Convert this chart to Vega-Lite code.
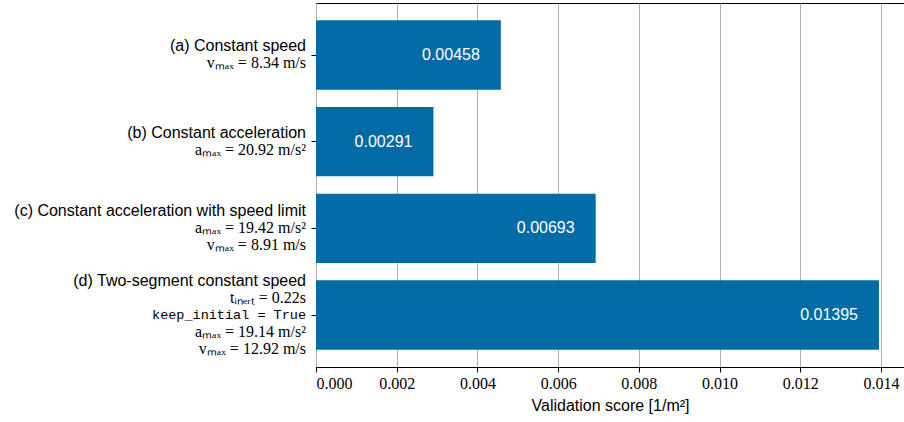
{
  "$schema": "https://vega.github.io/schema/vega-lite/v6.json",
  "width": 588,
  "height": 364,
  "autosize": {"type": "none"},
  "padding": {"left": 316, "top": 3, "right": 0, "bottom": 55},
  "background": "white",
  "config": {
    "view": {"stroke": "black", "strokeWidth": 1},
    "font": "Liberation Sans"
  },
  "datasets": {
    "scores": [
      {"model": "(a) Constant speed", "score": 0.00458},
      {"model": "(b) Constant acceleration", "score": 0.00291},
      {"model": "(c) Constant acceleration with speed limit", "score": 0.00693},
      {"model": "(d) Two-segment constant speed", "score": 0.01395}
    ],
    "labels": [
      {"model": "(a) Constant speed", "line": 1, "kind": "heading", "text": "(a) Constant speed"},
      {"model": "(a) Constant speed", "line": 2, "kind": "math", "text": "vₘₐₓ = 8.34 m/s"},
      {"model": "(b) Constant acceleration", "line": 1, "kind": "heading", "text": "(b) Constant acceleration"},
      {"model": "(b) Constant acceleration", "line": 2, "kind": "math", "text": "aₘₐₓ = 20.92 m/s²"},
      {"model": "(c) Constant acceleration with speed limit", "line": 1, "kind": "heading", "text": "(c) Constant acceleration with speed limit"},
      {"model": "(c) Constant acceleration with speed limit", "line": 2, "kind": "math", "text": "aₘₐₓ = 19.42 m/s²"},
      {"model": "(c) Constant acceleration with speed limit", "line": 3, "kind": "math", "text": "vₘₐₓ = 8.91 m/s"},
      {"model": "(d) Two-segment constant speed", "line": 1, "kind": "heading", "text": "(d) Two-segment constant speed"},
      {"model": "(d) Two-segment constant speed", "line": 2, "kind": "math", "text": "tᵢₙₑᵣₜ = 0.22s"},
      {"model": "(d) Two-segment constant speed", "line": 3, "kind": "code", "text": "keep_initial = True"},
      {"model": "(d) Two-segment constant speed", "line": 4, "kind": "math", "text": "aₘₐₓ = 19.14 m/s²"},
      {"model": "(d) Two-segment constant speed", "line": 5, "kind": "math", "text": "vₘₐₓ = 12.92 m/s"}
    ]
  },
  "resolve": {"scale": {"yOffset": "independent"}},
  "layer": [
    {
      "data": {"name": "scores"},
      "mark": {"type": "bar", "color": "#006ba4"},
      "encoding": {
        "y": {
          "field": "model", "type": "nominal", "sort": null,
          "scale": {
            "domain": ["(a) Constant speed", "(b) Constant acceleration", "(c) Constant acceleration with speed limit", "(d) Two-segment constant speed"],
            "paddingInner": 0.2, "paddingOuter": 0.2
          },
          "axis": {"labels": false, "ticks": true, "tickColor": "black", "tickSize": 5, "domain": false, "grid": false, "title": null}
        },
        "x": {
          "field": "score", "type": "quantitative",
          "scale": {"domain": [0, 0.01457], "nice": false},
          "axis": {
            "values": [0, 0.002, 0.004, 0.006, 0.008, 0.01, 0.012, 0.014],
            "format": ".3f",
            "grid": true, "gridColor": "#b0b0b0", "gridWidth": 1,
            "domainColor": "black", "tickColor": "black", "tickSize": 5,
            "labelFont": "Liberation Serif", "labelFontSize": 16, "labelColor": "black", "labelPadding": 3,
            "title": "Validation score [1/m²]", "titleFont": "Liberation Sans", "titleFontSize": 16,
            "titleFontWeight": "normal", "titleColor": "black", "titlePadding": 6
          }
        }
      }
    },
    {
      "data": {"name": "scores"},
      "mark": {"type": "text", "align": "right", "baseline": "middle", "dx": -21, "color": "white", "fontSize": 16, "font": "Liberation Sans"},
      "encoding": {
        "y": {"field": "model", "type": "nominal", "sort": null},
        "x": {"field": "score", "type": "quantitative"},
        "text": {"field": "score", "type": "quantitative", "format": ".5f"}
      }
    },
    {
      "data": {"name": "labels"},
      "transform": [
        {"joinaggregate": [{"op": "count", "as": "n"}], "groupby": ["model"]},
        {"calculate": "datum.line - (datum.n + 1) / 2", "as": "off"}
      ],
      "encoding": {
        "y": {"field": "model", "type": "nominal", "sort": null},
        "yOffset": {"field": "off", "type": "quantitative", "scale": {"domain": [-2.04, 2.04], "range": [0, 69.3]}},
        "x": {"datum": 0, "type": "quantitative"},
        "text": {"field": "text", "type": "nominal"}
      },
      "layer": [
        {
          "transform": [{"filter": "datum.kind === 'heading'"}],
          "mark": {"type": "text", "align": "right", "baseline": "middle", "dx": -10, "font": "Liberation Sans", "fontSize": 16, "color": "black"}
        },
        {
          "transform": [{"filter": "datum.kind === 'math'"}],
          "mark": {"type": "text", "align": "right", "baseline": "middle", "dx": -10, "font": "Liberation Serif", "fontSize": 16, "color": "black"}
        },
        {
          "transform": [{"filter": "datum.kind === 'code'"}],
          "mark": {"type": "text", "align": "right", "baseline": "middle", "dx": -10, "font": "Liberation Mono", "fontSize": 13.5, "color": "black"}
        }
      ]
    }
  ]
}
